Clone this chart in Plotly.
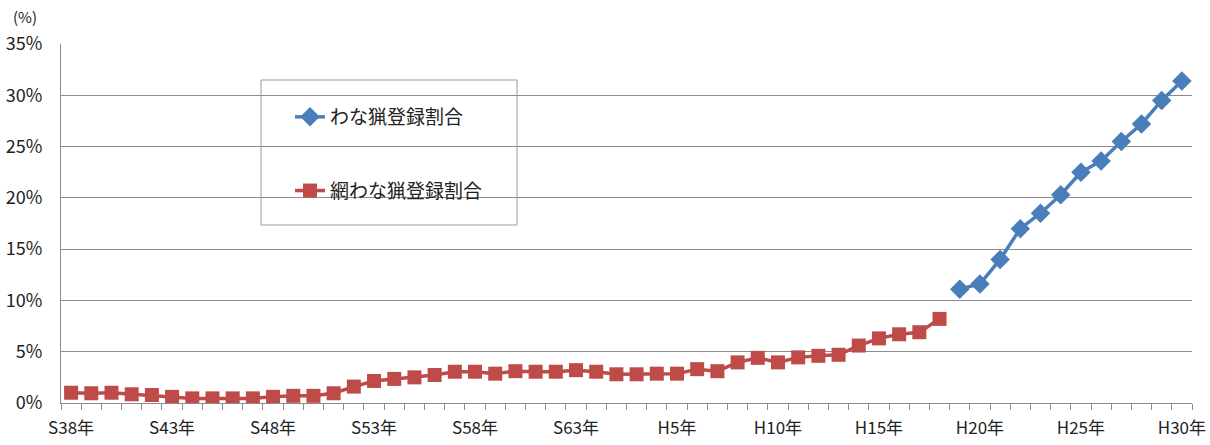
import plotly.graph_objects as go

# Year labels: Showa 38 (1963) through Heisei 30 (2018)
year_labels = [f"S{n}年" for n in range(38, 64)] + [f"H{n}年" for n in range(1, 31)]

# Share of net-trap (網わな) hunting licences, S38–H18 (%)
net_trap_share = [
    1.0, 0.95, 1.0, 0.85, 0.78, 0.6, 0.45, 0.45, 0.45, 0.45,
    0.6, 0.7, 0.7, 0.95, 1.6, 2.15, 2.35, 2.5, 2.73, 3.05,
    3.05, 2.86, 3.1, 3.05, 3.05, 3.2, 3.05, 2.8, 2.8, 2.86,
    2.86, 3.3, 3.1, 3.96, 4.4, 3.96, 4.45, 4.6, 4.7, 5.6,
    6.3, 6.7, 6.9, 8.2,
]

# Share of trap (わな) hunting licences, H19–H30 (%)
trap_share = [11.1, 11.6, 14.0, 17.0, 18.5, 20.3, 22.5, 23.6, 25.5, 27.2, 29.5, 31.4]

tick_labels = year_labels[::5]

x_net = list(range(len(net_trap_share)))
x_trap = list(range(len(net_trap_share), len(net_trap_share) + len(trap_share)))

FONT = "Noto Sans CJK JP"
BLUE = "#4A7EBB"
RED = "#BE4B48"
GRID = "#8C8C8C"

fig = go.Figure()

fig.add_trace(go.Scatter(
    x=x_trap, y=trap_share, name="わな猟登録割合",
    mode="lines+markers",
    line=dict(color=BLUE, width=3.5),
    marker=dict(symbol="diamond", size=15, color=BLUE),
    legendgroup="a",
))
fig.add_trace(go.Scatter(
    x=x_net, y=net_trap_share, name="網わな猟登録割合",
    mode="lines+markers",
    line=dict(color=RED, width=3.5),
    marker=dict(symbol="square", size=14, color=RED),
    legendgroup="b",
))

# plot area in pixels
L, R, T, B = 61, 1192, 44, 403
W, H = 1210, 445


def px_x(p):
    return (p - L) / (R - L)


def px_y(p):
    return (B - p) / (B - T)


fig.update_layout(
    width=W, height=H,
    margin=dict(l=L, r=W - R, t=T, b=H - B),
    paper_bgcolor="white", plot_bgcolor="white",
    font=dict(family=FONT, size=17, color="#222222"),
    showlegend=True,
    legend=dict(
        x=px_x(290), y=px_y(98), xanchor="left", yanchor="top",
        bgcolor="rgba(0,0,0,0)", borderwidth=0,
        tracegroupgap=46,
        font=dict(family=FONT, size=19, color="#222222"),
    ),
    shapes=[dict(
        type="rect", xref="paper", yref="paper",
        x0=px_x(261), x1=px_x(517), y0=px_y(225), y1=px_y(80),
        line=dict(color="#9A9A9A", width=1), fillcolor="rgba(0,0,0,0)",
        layer="below",
    )],
    annotations=[dict(
        text="(%)", xref="paper", yref="paper",
        x=px_x(11), y=px_y(4), xanchor="left", yanchor="top",
        showarrow=False, font=dict(family=FONT, size=15, color="#222222"),
    )],
)

fig.update_xaxes(
    range=[-0.5, len(year_labels) - 0.5],
    tickmode="array",
    tickvals=[i for i in range(0, len(year_labels), 5)],
    ticktext=tick_labels,
    ticks="", showgrid=False,
    showline=True, linecolor=GRID, linewidth=1,
    minor=dict(
        tickmode="array",
        tickvals=[i - 0.5 for i in range(len(year_labels) + 1)],
        ticks="outside", ticklen=6, tickcolor=GRID, showgrid=False,
    ),
    ticklabelstandoff=10,
    tickfont=dict(family=FONT, size=17),
    zeroline=False,
    automargin=False,
)

fig.update_yaxes(
    range=[0, 35],
    tickvals=[0, 5, 10, 15, 20, 25, 30, 35],
    ticktext=[f"{v}%" for v in [0, 5, 10, 15, 20, 25, 30, 35]],
    showgrid=True, gridcolor=GRID, gridwidth=1,
    showline=True, linecolor=GRID, linewidth=1,
    ticks="", ticklabelstandoff=14,
    tickfont=dict(family=FONT, size=18),
    zeroline=False,
    automargin=False,
)

fig.write_html("out.html")
